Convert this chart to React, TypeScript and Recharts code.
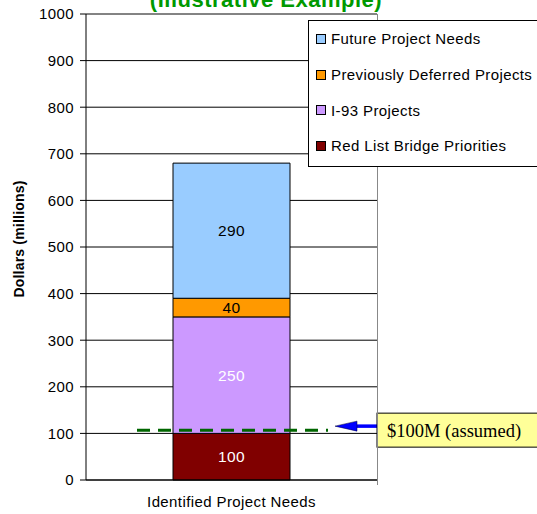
import React from "react";
import { BarChart, Bar, XAxis, YAxis, CartesianGrid, LabelList, ReferenceLine } from "recharts";

document.body.style.margin = "0";

const categories = ["Identified Project Needs"];
const redList = [100];
const i93 = [250];
const deferred = [40];
const future = [290];
const yTicks = [0, 100, 200, 300, 400, 500, 600, 700, 800, 900, 1000];
const assumedLevel = 107;

const SERIES = [
  { key: "red", name: "Red List Bridge Priorities", color: "#800000", label: "#ffffff", values: redList },
  { key: "i93", name: "I-93 Projects", color: "#cc99ff", label: "#ffffff", values: i93 },
  { key: "deferred", name: "Previously Deferred Projects", color: "#ff9900", label: "#000000", values: deferred },
  { key: "future", name: "Future Project Needs", color: "#99ccff", label: "#000000", values: future },
];

const data = categories.map((c, i) => {
  const row: Record<string, string | number> = { name: c };
  SERIES.forEach((s) => { row[s.key] = s.values[i]; });
  return row;
});

const FONT = "'Liberation Sans', Arial, sans-serif";
const TXT = { fontSize: 15, letterSpacing: 0.4, fill: "#000" };

function LegendBox() {
  const items = [...SERIES].reverse();
  return (
    <div style={{ position: "absolute", left: 308, top: 20, background: "#fff", border: "1px solid #000", width: 240, height: 147, boxSizing: "border-box", paddingTop: 0, fontFamily: FONT }}>
      {items.map((s) => (
        <div key={s.key} style={{ display: "flex", alignItems: "center", height: 35.7, paddingLeft: 7 }}>
          <div style={{ width: 8, height: 8, background: s.color, border: "1px solid #000", marginRight: 5 }} />
          <span style={{ fontSize: 15, letterSpacing: 0.4, color: "#000" }}>{s.name}</span>
        </div>
      ))}
    </div>
  );
}

function AssumedLine(props: any) {
  const { x1, x2, y1 } = props;
  const start = x1 + 51;
  const end = x2 - 49;
  const ay = y1 - 4;
  return (
    <g>
      <line x1={start} y1={y1} x2={end} y2={y1} stroke="#006600" strokeWidth={3} strokeDasharray="13 8" />
      <line x1={x2} y1={ay} x2={x2 - 24} y2={ay} stroke="#0000ff" strokeWidth={3.5} />
      <polygon points={`${x2 - 42},${ay} ${x2 - 20},${ay - 5} ${x2 - 20},${ay + 5}`} fill="#0000ff" stroke="#000033" strokeWidth={0.5} />
      <rect x={x2} y={ay - 13} width={170} height={34} fill="#ffff99" stroke="#000" strokeWidth={1} />
      <text x={x2 + 10} y={ay + 11} fontFamily="'Liberation Serif', 'Times New Roman', serif" fontSize={18.5} fill="#000">$100M (assumed)</text>
    </g>
  );
}

export default function App() {
  return (
    <div style={{ position: "relative", width: 537, height: 514, overflow: "hidden", background: "#fff" }}>
      <BarChart width={537} height={514} data={data} margin={{ top: 14, right: 160, bottom: 0, left: 26 }} barSize={117} style={{ fontFamily: FONT }}>
        <CartesianGrid horizontal vertical={false} stroke="#000" strokeOpacity={1} />
        <XAxis dataKey="name" height={34} axisLine={{ stroke: "#000" }} tickLine={false} tickMargin={10} tick={TXT} />
        <YAxis domain={[0, 1000]} ticks={yTicks} width={60} interval={0} axisLine={{ stroke: "#000" }} tickLine={{ stroke: "#000" }} tickSize={6} tickMargin={6} tick={TXT} />
        <ReferenceLine y={1000} stroke="#888" />
        {SERIES.map((s) => (
          <Bar key={s.key} dataKey={s.key} name={s.name} stackId="a" fill={s.color} stroke="#000" strokeWidth={1} isAnimationActive={false}>
            <LabelList dataKey={s.key} position="center" fill={s.label} fontSize={15.5} letterSpacing={0.4} />
          </Bar>
        ))}
        <ReferenceLine y={assumedLevel} shape={(p: any) => <AssumedLine {...p} />} />
      </BarChart>
      <div style={{ position: "absolute", left: 377, top: 14, width: 1, height: 471, background: "#888" }} />
      <LegendBox />
      <div style={{ position: "absolute", left: 0, top: -13, width: 532, textAlign: "center", fontFamily: FONT, fontWeight: "bold", fontSize: 22, letterSpacing: 0.5, color: "#009900" }}>
        (Illustrative Example)
      </div>
      <div style={{ position: "absolute", left: 18.5, top: 239, width: 0, height: 0 }}>
        <div style={{ position: "absolute", transform: "translate(-50%, -50%) rotate(-90deg)", whiteSpace: "nowrap", fontFamily: FONT, fontWeight: "bold", fontSize: 14, letterSpacing: 0.2, color: "#000" }}>
          Dollars (millions)
        </div>
      </div>
    </div>
  );
}
